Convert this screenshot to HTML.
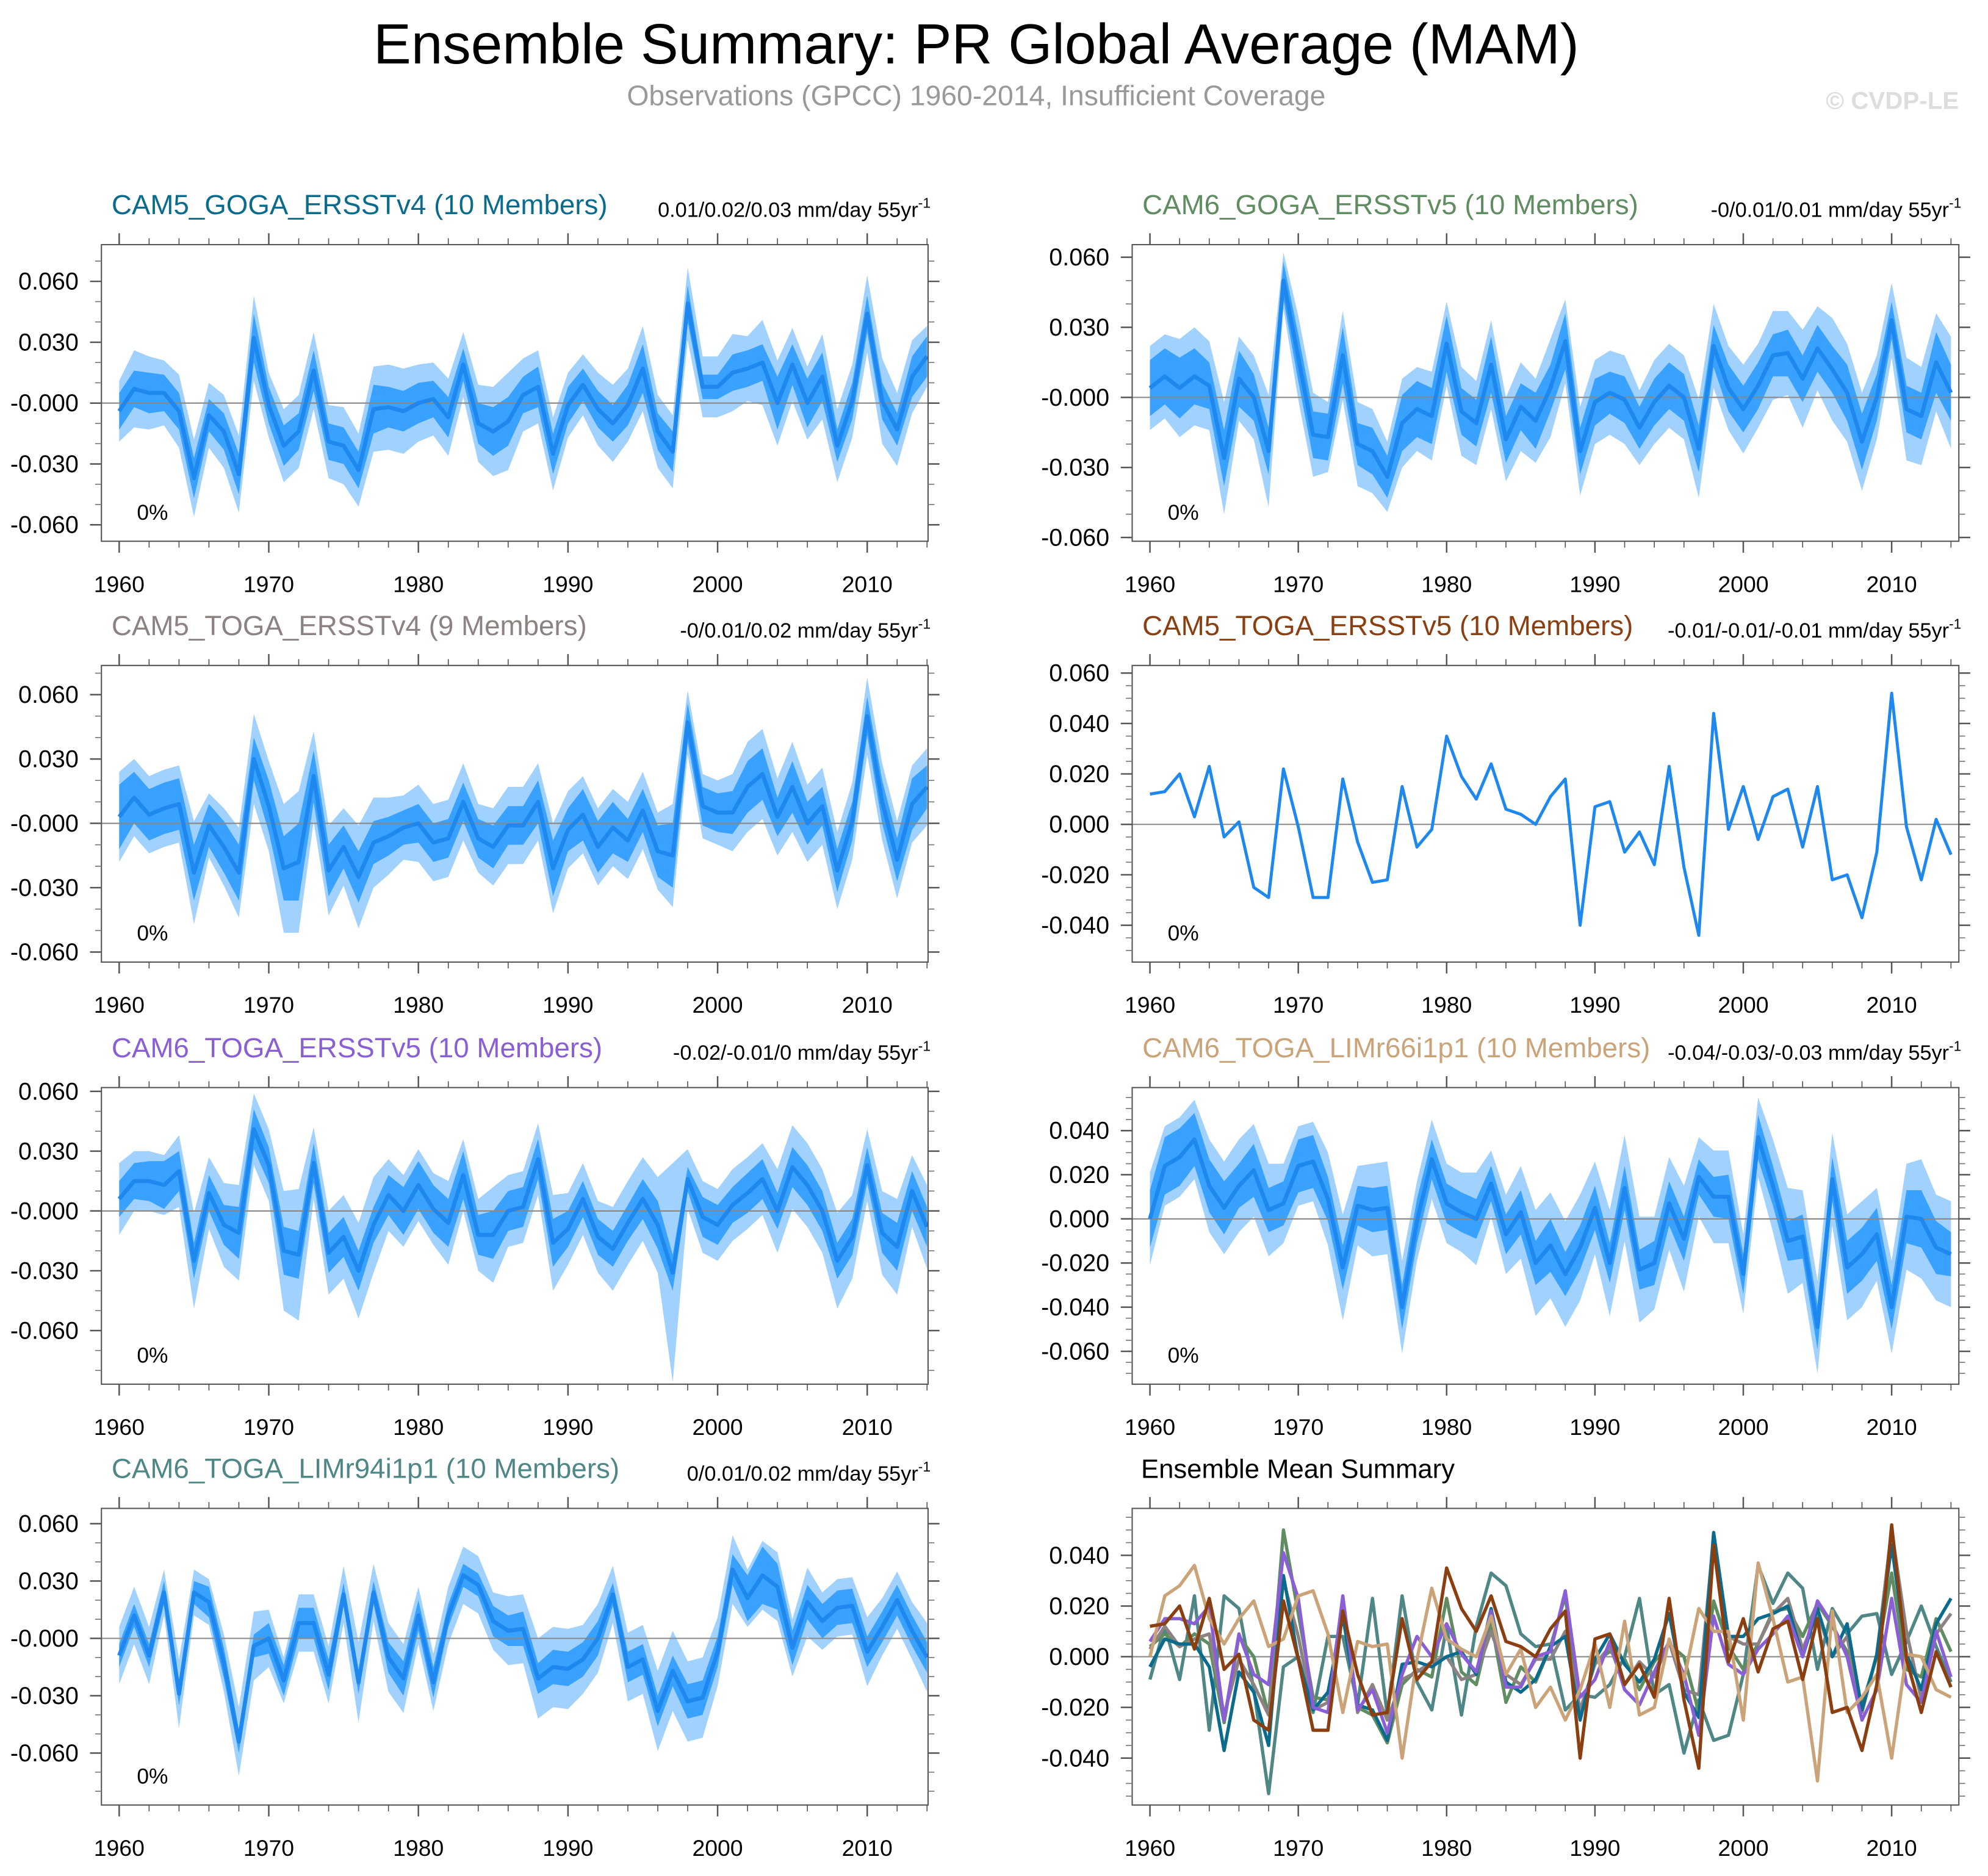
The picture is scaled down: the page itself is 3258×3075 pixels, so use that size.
<!DOCTYPE html>
<html><head><meta charset="utf-8"><style>
html,body{margin:0;padding:0;background:#fff;}
svg{display:block;}
text{font-family:"Liberation Sans",sans-serif;}
</style></head>
<body>
<svg id="chart" xmlns="http://www.w3.org/2000/svg" width="3258" height="3075" viewBox="0 0 1568 1480" preserveAspectRatio="none">
<text x="770" y="50" font-size="44.6" text-anchor="middle" fill="#000">Ensemble Summary: PR Global Average (MAM)</text>
<text x="770" y="83" font-size="22.3" text-anchor="middle" fill="#999">Observations (GPCC) 1960-2014, Insufficient Coverage</text>
<text x="1545" y="86" font-size="19.4" font-weight="bold" text-anchor="end" fill="#ddd">© CVDP-LE</text>
<g id="panels"></g>
</svg>
<script>
// Ensemble means (units of 0.001 mm/day), years 1960-2014
const m1 = [-4,7,5,5,-4,-37,-6,-14,-35,32,-1,-21,-14,16,-19,-21,-33,-3,-2,-4,0,2,-7,19,-10,-14,-9,4,8,-25,-1,9,-3,-10,-1,17,-14,-24,49,8,8,15,17,20,0,19,0,13,-21,1,44,1,-13,13,23];
const m2 = [4,9,4,9,5,-26,8,0,-23,50,17,-16,-17,18,-20,-23,-34,-11,-5,-8,23,-6,-11,14,-18,-4,-10,4,24,-23,-2,2,-1,-13,-2,5,0,-22,22,4,-5,5,18,19,8,21,12,2,-19,0,33,-5,-8,15,2];
const m3 = [3,12,4,7,9,-23,-1,-11,-23,30,8,-21,-18,22,-22,-11,-25,-9,-6,-2,0,-9,-7,10,-7,-11,-1,-1,10,-21,-3,4,-11,-2,-8,6,-13,-15,47,8,5,5,17,23,3,17,0,8,-22,1,50,10,-17,9,17];
const m4 = [12,13,20,3,23,-5,1,-25,-29,22,-1,-29,-29,18,-7,-23,-22,15,-9,-2,35,19,10,24,6,4,0,11,18,-40,7,9,-11,-3,-16,23,-17,-44,44,-2,15,-6,11,14,-9,15,-22,-20,-37,-11,52,-1,-22,2,-12];
const m5 = [6,15,15,13,20,-25,9,-7,-11,41,23,-20,-22,24,-21,-13,-30,-7,8,0,13,1,-6,18,-12,-12,0,2,26,-16,-9,6,-13,-19,-6,6,-7,-31,16,-3,-7,3,9,16,0,22,13,0,-25,-13,23,-11,-18,10,-8];
const m6 = [0,24,28,36,15,5,15,22,4,7,24,26,9,-22,6,4,5,-40,-1,27,7,3,0,16,-7,3,-20,-12,-25,-13,5,-20,14,-23,-20,7,-9,19,10,10,-25,37,15,-10,-8,-49,18,-22,-16,-7,-40,1,0,-13,-16];
const m7 = [-9,12,-9,24,-29,24,19,-13,-54,-4,0,-22,8,8,-19,23,-23,24,-10,-21,12,-23,12,33,28,9,4,5,-21,-15,-16,-11,0,23,-15,-11,-38,-17,-33,-31,-7,36,21,33,27,-5,19,9,16,17,-7,6,20,4,-10];
// Ensemble spread half-widths (0.001 units): inner (dark band) and outer (light band)
const in1 = [9,9,10,9,9,10,8,9,10,12,9,10,9,10,9,9,9,12,10,10,10,9,10,8,10,12,12,9,10,10,9,8,9,9,10,12,9,10,9,6,6,9,9,9,13,10,12,12,8,9,9,9,8,10,10];
const out1 = [15,19,18,16,18,19,16,18,19,21,16,18,18,19,18,19,18,21,21,21,19,18,19,16,19,22,24,18,18,18,16,15,18,19,18,21,18,18,18,15,15,19,16,21,21,18,18,21,18,18,19,21,18,18,15];
const in2 = [12,12,13,12,10,12,12,10,10,8,10,10,10,12,9,10,9,12,12,12,12,10,10,12,10,10,12,10,12,10,10,9,10,9,10,10,10,10,9,10,10,10,9,10,10,10,10,12,12,10,8,10,10,13,12];
const out2 = [18,18,21,21,19,24,18,18,24,12,18,18,15,19,18,18,15,19,18,19,18,19,18,19,18,19,18,21,18,19,18,18,19,16,18,18,18,21,18,18,19,18,19,18,21,18,22,21,21,18,16,22,21,21,24];
const in3 = [15,12,12,12,12,13,10,12,13,10,12,15,18,12,12,10,12,10,9,8,9,9,9,9,9,10,9,9,10,13,10,12,12,12,10,10,12,15,9,9,9,10,12,12,9,12,10,9,10,9,9,10,10,12,10];
const out3 = [21,18,18,18,18,24,15,18,21,21,21,30,33,21,21,18,24,21,18,15,18,18,18,18,16,18,18,18,18,21,18,18,18,18,18,18,18,24,15,15,15,18,21,21,18,21,18,18,18,18,18,18,18,18,18];
const in4 = [];
const out4 = [];
const in5 = [9,9,10,12,10,9,9,10,13,10,9,12,12,10,10,10,10,9,10,12,12,12,12,12,10,12,10,10,10,12,9,9,9,9,9,10,12,9,6,10,10,9,10,10,9,10,10,10,9,9,9,10,12,10,10];
const out5 = [18,15,15,15,18,24,18,21,24,18,18,30,33,18,21,21,24,24,18,18,18,18,21,18,18,24,18,18,18,24,18,18,18,21,21,21,24,55,15,18,18,18,18,18,21,21,21,21,24,21,18,21,24,18,21];
const in6 = [13,13,13,12,12,12,10,12,10,10,12,12,10,10,9,10,10,10,10,9,9,9,9,8,9,10,10,12,10,10,10,9,10,9,10,10,10,8,9,10,9,10,9,9,10,10,10,12,12,12,10,12,13,12,10];
const out6 = [21,18,18,18,21,21,21,21,21,18,18,18,21,24,18,21,21,21,18,18,18,18,21,15,18,21,24,24,24,24,21,24,24,24,21,21,24,18,21,21,18,18,21,24,21,21,21,24,24,21,21,24,27,24,24];
const in7 = [6,6,6,6,6,6,8,8,6,6,8,8,8,8,8,6,6,6,8,9,8,8,6,6,6,8,8,9,8,9,9,9,9,6,8,8,8,8,9,9,8,8,12,15,12,9,9,9,9,9,8,8,8,8,8];
const out7 = [15,15,15,12,18,12,12,15,18,18,15,12,15,15,15,15,21,15,18,18,15,15,15,15,15,15,18,18,21,21,21,18,18,15,18,18,21,21,21,21,18,18,15,18,18,15,18,15,15,15,18,15,15,15,18];

const titles = ["CAM5_GOGA_ERSSTv4 (10 Members)","CAM6_GOGA_ERSSTv5 (10 Members)","CAM5_TOGA_ERSSTv4 (9 Members)","CAM5_TOGA_ERSSTv5 (10 Members)","CAM6_TOGA_ERSSTv5 (10 Members)","CAM6_TOGA_LIMr66i1p1 (10 Members)","CAM6_TOGA_LIMr94i1p1 (10 Members)"];
const trends = ["0.01/0.02/0.03","-0/0.01/0.01","-0/0.01/0.02","-0.01/-0.01/-0.01","-0.02/-0.01/0","-0.04/-0.03/-0.03","0/0.01/0.02"];
const xTickLabels = ["1960","1970","1980","1990","2000","2010"];
const yTicks30 = [0.06,0.03,0,-0.03,-0.06];
const yTicks30Labels = ["0.060","0.030","-0.000","-0.030","-0.060"];
const yTicksA = [0.06,0.04,0.02,0,-0.02,-0.04];
const yTicksALabels = ["0.060","0.040","0.020","0.000","-0.020","-0.040"];
const yTicksB = [0.04,0.02,0,-0.02,-0.04,-0.06];
const yTicksBLabels = ["0.040","0.020","0.000","-0.020","-0.040","-0.060"];
const yTicksC = [0.04,0.02,0,-0.02,-0.04];
const yTicksCLabels = ["0.040","0.020","0.000","-0.020","-0.040"];

const titleColors = ["#0b6b8c","#5f8c60","#8c8282","#8b3f10","#8a5fd6","#caa478","#4f8787"];
const means = [m1,m2,m3,m4,m5,m6,m7];
const inners = [in1,in2,in3,in4,in5,in6,in7];
const outers = [out1,out2,out3,out4,out5,out6,out7];

const NS = "http://www.w3.org/2000/svg";
const root = document.getElementById('panels');
function mk(tag, attrs, parent){
  const e = document.createElementNS(NS, tag);
  for (const k in attrs) e.setAttribute(k, attrs[k]);
  (parent||root).appendChild(e);
  return e;
}
const colX = [[80,732,94,11.8],[893,1545,907,11.7]];
const rowY = [[193,427],[525,759],[858,1092],[1190,1424]];
const domains = [[-0.0681,0.0781],[-0.0616,0.0654],[-0.0647,0.0736],[-0.0546,0.063],[-0.0869,0.0619],[-0.0749,0.0595],[-0.0872,0.068],[-0.0585,0.0585]];
const tickSets = [[yTicks30,yTicks30Labels,0.01],[yTicks30,yTicks30Labels,0.01],[yTicks30,yTicks30Labels,0.01],[yTicksA,yTicksALabels,0.005],[yTicks30,yTicks30Labels,0.01],[yTicksB,yTicksBLabels,0.005],[yTicks30,yTicks30Labels,0.01],[yTicksC,yTicksCLabels,0.005]];

for (let p=0;p<8;p++){
  const col = p%2, row = Math.floor(p/2);
  const [x0,x1,xa,xs] = colX[col];
  const [y0,y1] = rowY[row];
  const [dmin,dmax] = domains[p];
  const X = yr => xa + (yr-1960)*xs;
  const Y = v => y1 - (v-dmin)/(dmax-dmin)*(y1-y0);
  const g = mk('g',{});
  
  
  const cid = 'clip'+p;
  const cp = mk('clipPath',{id:cid},g);
  mk('rect',{x:x0,y:y0,width:x1-x0,height:y1-y0},cp);
  const plot = mk('g',{'clip-path':'url(#'+cid+')'},g);
  
  
  const N = 55;
  if (p<7){
    const m = means[p], inn = inners[p], out = outers[p];
    if (inn.length){
      let outerPts=[], innerPts=[];
      for (let i=0;i<N;i++){ outerPts.push(X(1960+i)+','+Y((m[i]+out[i])/1000)); innerPts.push(X(1960+i)+','+Y((m[i]+inn[i])/1000)); }
      for (let i=N-1;i>=0;i--){ outerPts.push(X(1960+i)+','+Y((m[i]-out[i])/1000)); innerPts.push(X(1960+i)+','+Y((m[i]-inn[i])/1000)); }
      const ob = mk('polygon',{points:outerPts.join(' '),fill:'#a1d1ff'},plot);
      
      
      const ib = mk('polygon',{points:innerPts.join(' '),fill:'#39a1ff'},plot);
      
      
    }
    const zl = mk('line',{x1:x0,x2:x1,y1:Y(0),y2:Y(0),stroke:'#888','stroke-width':1},plot);
    
    
    const pts = m.map((v,i)=>X(1960+i)+','+Y(v/1000)).join(' ');
    const ml = mk('polyline',{points:pts,fill:'none',stroke:'#1e88ee','stroke-width':inn.length?3.2:2.4,'stroke-linejoin':'round'},plot);
    
    
    const t = mk('text',{x:x0+8,y:y0-24,'font-size':22,fill:titleColors[p]},g);
    t.textContent = titles[p];
    
    
    const tr = mk('text',{x:x1+2,y:y0-22,'font-size':16.5,'text-anchor':'end',fill:'#000'},g);
    tr.textContent = trends[p]+' mm/day 55yr';
    const sup = mk('tspan',{'font-size':11,dy:-7},tr);
    sup.textContent = '-1';
    
    
    const pc = mk('text',{x:x0+28,y:y1-17,'font-size':17,fill:'#000'},g);
    pc.textContent = '0%';
    
    
  } else {
    const zl = mk('line',{x1:x0,x2:x1,y1:Y(0),y2:Y(0),stroke:'#888','stroke-width':1},plot);
    
    
    const order = [6,1,2,0,4,5,3];
    for (const k of order){
      const pts = means[k].map((v,i)=>X(1960+i)+','+Y(v/1000)).join(' ');
      const l = mk('polyline',{points:pts,fill:'none',stroke:titleColors[k],'stroke-width':2.6,'stroke-linejoin':'round'},plot);
      
      
    }
    const t = mk('text',{x:x0+7,y:y0-24,'font-size':21,fill:'#000'},g);
    t.textContent = 'Ensemble Mean Summary';
    
    
  }
  const fr = mk('rect',{x:x0,y:y0,width:x1-x0,height:y1-y0,fill:'none',stroke:'#555','stroke-width':1},g);
  
  
  for (let yr=1960; yr<=2014; yr+=2){
    const major = (yr%10===0);
    const len = major?9:5;
    mk('line',{x1:X(yr),x2:X(yr),y1:y1,y2:y1+len,stroke:'#555','stroke-width':major?1.2:0.8},g);
    mk('line',{x1:X(yr),x2:X(yr),y1:y0,y2:y0-len,stroke:'#555','stroke-width':major?1.2:0.8},g);
  }
  xTickLabels.forEach((lab,i)=>{
    const tx = mk('text',{x:X(+lab),y:y1+40,'font-size':18,'text-anchor':'middle',fill:'#000'},g);
    tx.textContent = lab;
    
    
  });
  const [tv,tl,minorStep] = tickSets[p];
  for (let v=Math.ceil(dmin/minorStep)*minorStep; v<=dmax+1e-9; v+=minorStep){
    mk('line',{x1:x0,x2:x0-5,y1:Y(v),y2:Y(v),stroke:'#777','stroke-width':0.8},g);
    mk('line',{x1:x1,x2:x1+5,y1:Y(v),y2:Y(v),stroke:'#777','stroke-width':0.8},g);
  }
  tv.forEach((v,i)=>{
    mk('line',{x1:x0,x2:x0-9,y1:Y(v),y2:Y(v),stroke:'#555','stroke-width':1.2},g);
    mk('line',{x1:x1,x2:x1+9,y1:Y(v),y2:Y(v),stroke:'#555','stroke-width':1.2},g);
    const ty = mk('text',{x:x0-18,y:Y(v)+6.5,'font-size':19,'text-anchor':'end',fill:'#000'},g);
    ty.textContent = tl[i];
    
    
  });
}
</script>
</body></html>
